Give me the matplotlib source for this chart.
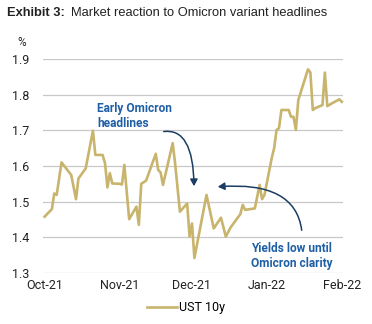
import matplotlib
matplotlib.use("Agg")
import matplotlib.pyplot as plt
import matplotlib.dates as mdates
from matplotlib.patches import FancyArrowPatch
import numpy as np
import pandas as pd

# UST 10y yield (%)
dates = ["2021-10-01", "2021-10-04", "2021-10-05", "2021-10-06", "2021-10-08",
         "2021-10-12", "2021-10-14", "2021-10-15", "2021-10-18", "2021-10-21",
         "2021-10-22", "2021-10-25", "2021-10-26", "2021-10-27", "2021-10-28",
         "2021-10-29", "2021-11-01", "2021-11-02", "2021-11-03", "2021-11-05",
         "2021-11-08", "2021-11-09", "2021-11-10", "2021-11-12", "2021-11-16",
         "2021-11-17", "2021-11-18", "2021-11-19", "2021-11-23", "2021-11-24",
         "2021-11-26", "2021-11-29", "2021-11-30", "2021-12-01", "2021-12-02",
         "2021-12-07", "2021-12-10", "2021-12-13", "2021-12-15", "2021-12-17",
         "2021-12-21", "2021-12-22", "2021-12-23", "2021-12-27", "2021-12-29",
         "2021-12-30", "2021-12-31", "2022-01-03", "2022-01-04", "2022-01-05",
         "2022-01-06", "2022-01-07", "2022-01-10", "2022-01-11", "2022-01-12",
         "2022-01-13", "2022-01-14", "2022-01-18", "2022-01-19", "2022-01-20",
         "2022-01-21", "2022-01-24", "2022-01-25", "2022-01-26", "2022-01-28",
         "2022-01-31", "2022-02-01"]
ust10y = [1.458, 1.479, 1.523, 1.519, 1.610,
          1.575, 1.507, 1.565, 1.593, 1.699,
          1.631, 1.631, 1.608, 1.540, 1.580,
          1.551, 1.550, 1.548, 1.603, 1.451,
          1.486, 1.435, 1.550, 1.559, 1.634,
          1.589, 1.582, 1.547, 1.664, 1.608,
          1.472, 1.495, 1.402, 1.439, 1.342,
          1.519, 1.425, 1.455, 1.402, 1.428,
          1.465, 1.491, 1.477, 1.481, 1.547,
          1.507, 1.519, 1.622, 1.650, 1.701,
          1.706, 1.757, 1.757, 1.738, 1.738,
          1.701, 1.785, 1.871, 1.862, 1.757,
          1.762, 1.771, 1.862, 1.768, 1.776,
          1.787, 1.780]

yticks = [1.3, 1.4, 1.5, 1.6, 1.7, 1.8, 1.9]
month_ticks = ["2021-10-01", "2021-11-01", "2021-12-01", "2022-01-01", "2022-02-01"]

gold = "#c8b46c"
blue = "#1f5fa6"
navy = "#1b3d63"
narrow = ["Liberation Sans Narrow", "Roboto", "DejaVu Sans"]

x = pd.to_datetime(dates)

fig = plt.figure(figsize=(3.72, 3.24), dpi=100)
ax = fig.add_axes([43 / 372, 1 - 273 / 324, 300 / 372, 214 / 324])

ax.plot(x, ust10y, color=gold, lw=1.9, label="UST 10y", clip_on=False, zorder=3)

ax.set_ylim(1.3, 1.9)
ax.set_yticks(yticks)
ax.set_yticklabels(["%.1f" % v for v in yticks], family=narrow, fontsize=9, color="#222222")
ax.set_xlim(pd.Timestamp("2021-09-30 08:00"), pd.Timestamp("2022-02-01 12:00"))
ax.set_xticks(pd.to_datetime(month_ticks))
ax.xaxis.set_major_formatter(mdates.DateFormatter("%b-%y"))
for lab in ax.get_xticklabels():
    lab.set_family(narrow)
    lab.set_fontsize(9)
    lab.set_color("#222222")
ax.tick_params(length=0, pad=4)
ax.tick_params(axis="y", pad=10)
ax.grid(axis="y", color="#c8c8c8", lw=0.9)
ax.set_axisbelow(True)
for s in ax.spines.values():
    s.set_visible(False)

fig.text(22 / 372, 1 - 43 / 324, "%", family=narrow, fontsize=8.5, color="#222222",
         ha="center", va="center")

# title
t1 = fig.text(7 / 372, 1 - 13 / 324, "Exhibit 3:", fontsize=9.3, weight="bold",
              family="Liberation Sans", color="#222222", va="center")
fig.canvas.draw()
bb = t1.get_window_extent()
fig.text((bb.x1 + 6) / 372, 1 - 13 / 324, "Market reaction to Omicron variant headlines",
         fontsize=9.3, family="Liberation Sans", color="#222222", va="center")

# annotations
fig.text(97 / 372, 1 - 116 / 324, "Early Omicron\nheadlines", family=narrow,
         weight="bold", fontsize=8.6, color=blue, va="center", ha="left", linespacing=1.15)
fig.text(251 / 372, 1 - 256 / 324, "Yields low until\nOmicron clarity", family=narrow,
         weight="bold", fontsize=8.6, color=blue, va="center", ha="left", linespacing=1.15)

a1 = FancyArrowPatch((161 / 372, 1 - 132 / 324), (194 / 372, 1 - 189 / 324),
                     transform=fig.transFigure, connectionstyle="angle3,angleA=12,angleB=90",
                     arrowstyle="-|>,head_length=4,head_width=2.2", color=navy, lw=1.1)
a2 = FancyArrowPatch((302 / 372, 1 - 233 / 324), (215 / 372, 1 - 187 / 324),
                     transform=fig.transFigure, connectionstyle="angle3,angleA=95,angleB=5",
                     arrowstyle="-|>,head_length=4,head_width=2.2", color=navy, lw=1.1)
fig.patches.extend([a1, a2])

leg = fig.legend(loc="center", bbox_to_anchor=(186 / 372, 1 - 308 / 324), frameon=False,
                 handlelength=2.4, handletextpad=0.2, prop={"family": narrow, "size": 9})

fig.savefig("out.png", dpi=100)
